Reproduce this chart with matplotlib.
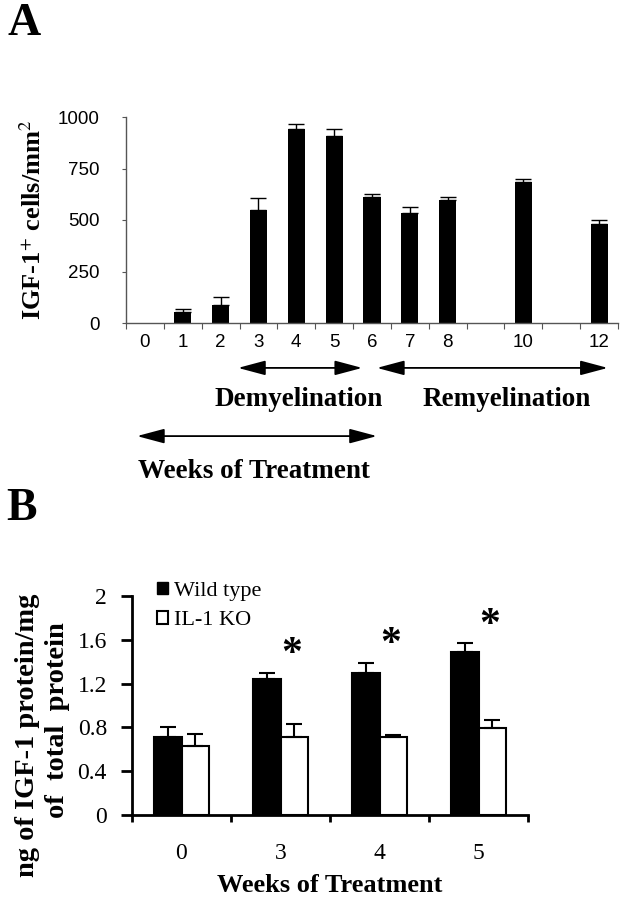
import numpy as np
import matplotlib
matplotlib.use("Agg")
from matplotlib import pyplot as plt
from matplotlib.patches import Patch

SERIF = ["Liberation Serif", "DejaVu Serif"]
SANS = ["Liberation Sans", "DejaVu Sans"]

# Panel A data
weeks_a = [0, 1, 2, 3, 4, 5, 6, 7, 8, 10, 12]
cells_a = [0, 55, 85, 550, 940, 910, 610, 535, 597, 685, 480]
err_a = [0, 15, 40, 55, 25, 30, 18, 28, 15, 15, 20]
tick_labels_a = ["0", "1", "2", "3", "4", "5", "6", "7", "8", "", "10", "", "12"]

# Panel B data
weeks_b = ["0", "3", "4", "5"]
wild_type = [0.71, 1.24, 1.30, 1.49]
wild_err = [0.09, 0.06, 0.09, 0.08]
il1_ko = [0.63, 0.71, 0.71, 0.79]
il1_err = [0.11, 0.12, 0.02, 0.08]
significant = [False, True, True, True]

fig = plt.figure(figsize=(6.22, 8.99), dpi=100)

# ---------------- Panel A ----------------
axA = fig.add_axes([126 / 622, 1 - 323 / 899, 492 / 622, 206 / 899])
cells = np.array(cells_a)
errs = np.array(err_a)
has = cells > 0
axA.bar(np.array(weeks_a)[has], cells[has], width=0.45, color="black")
axA.errorbar(np.array(weeks_a)[has], cells[has], yerr=[np.zeros(has.sum()), errs[has]],
             fmt="none", ecolor="black", elinewidth=1, capsize=6, capthick=1)

axA.set_xlim(-0.5, 12.5)
axA.set_ylim(0, 1000)
for side in ["top", "right"]:
    axA.spines[side].set_visible(False)
for side in ["left", "bottom"]:
    axA.spines[side].set_color("#555555")
    axA.spines[side].set_linewidth(1)

axA.set_yticks([0, 250, 500, 750, 1000])
axA.set_xticks(np.arange(-0.5, 13, 1))
axA.set_xticklabels([])
axA.set_xticks(np.arange(13), minor=True)
axA.set_xticklabels(tick_labels_a, minor=True)
axA.tick_params(axis="x", which="major", direction="out", length=4, color="#555555")
axA.tick_params(axis="x", which="minor", length=0, pad=8)
axA.tick_params(axis="y", direction="out", length=3, color="#555555", pad=16)
for lab in axA.get_yticklabels() + axA.get_xticklabels(minor=True):
    lab.set_fontfamily(SANS)
    lab.set_fontsize(13.5)

fig.text(33 / 622, 1 - 220 / 899, r"IGF-1$^{+}$ cells/mm$^{2}$", rotation=90,
         ha="center", va="center", fontsize=19, fontweight="bold", family=SERIF,
         math_fontfamily="stix")
fig.text(8 / 622, 1 - 3 / 899, "A", ha="left", va="top", fontsize=33,
         fontweight="bold", family=SERIF)

# arrows below panel A (x in data units, y in axes fraction)
trA = axA.get_xaxis_transform()
arrow_kw = dict(arrowstyle="<|-|>,head_length=1.2,head_width=0.32", color="black",
                lw=1.3, shrinkA=0, shrinkB=0, mutation_scale=14)
axA.annotate("", xy=(2.46, -0.218), xytext=(5.74, -0.218), xycoords=trA,
             textcoords=trA, arrowprops=arrow_kw, annotation_clip=False)
axA.annotate("", xy=(6.13, -0.218), xytext=(12.23, -0.218), xycoords=trA,
             textcoords=trA, arrowprops=arrow_kw, annotation_clip=False)
axA.annotate("", xy=(-0.21, -0.549), xytext=(6.13, -0.549), xycoords=trA,
             textcoords=trA, arrowprops=arrow_kw, annotation_clip=False)
axA.text(4.07, -0.37, "Demyelination", transform=trA, ha="center", va="center",
         fontsize=19.5, fontweight="bold", family=SERIF)
axA.text(9.57, -0.37, "Remyelination", transform=trA, ha="center", va="center",
         fontsize=19.5, fontweight="bold", family=SERIF)
axA.text(2.88, -0.72, "Weeks of Treatment", transform=trA, ha="center", va="center",
         fontsize=19.5, fontweight="bold", family=SERIF)

# ---------------- Panel B ----------------
axB = fig.add_axes([132 / 622, 1 - 815 / 899, 396 / 622, 219 / 899])
x = np.arange(len(weeks_b))
w = 0.28
axB.bar(x - w / 2, wild_type, width=w, color="black", edgecolor="black", linewidth=1.5)
axB.bar(x + w / 2, il1_ko, width=w, color="white", edgecolor="black", linewidth=1.5)
axB.errorbar(x - w / 2, wild_type, yerr=[np.zeros(len(x)), wild_err], fmt="none",
             ecolor="black", elinewidth=1.5, capsize=6, capthick=1.5)
axB.errorbar(x + w / 2, il1_ko, yerr=[np.zeros(len(x)), il1_err], fmt="none",
             ecolor="black", elinewidth=1.5, capsize=6, capthick=1.5)

for xi, sig, top in zip(x, significant, np.array(wild_type) + np.array(wild_err)):
    if sig:
        axB.text(xi + w / 2 - 0.03, top + 0.16, "*", ha="center", va="center",
                 fontsize=30, fontweight="bold", family=SERIF)

axB.set_xlim(-0.5, 3.5)
axB.set_ylim(0, 2)
for side in ["top", "right"]:
    axB.spines[side].set_visible(False)
for side in ["left", "bottom"]:
    axB.spines[side].set_linewidth(2)
axB.set_yticks([0, 0.4, 0.8, 1.2, 1.6, 2])
axB.set_yticklabels(["0", "0.4", "0.8", "1.2", "1.6", "2"])
axB.set_xticks(np.arange(-0.5, 4, 1))
axB.set_xticklabels([])
axB.set_xticks(x, minor=True)
axB.set_xticklabels(weeks_b, minor=True)
axB.tick_params(axis="x", which="major", direction="out", length=5, width=2)
axB.tick_params(axis="x", which="minor", length=0, pad=20)
axB.tick_params(axis="y", direction="out", length=8, width=2, pad=10)
for lab in axB.get_yticklabels() + axB.get_xticklabels(minor=True):
    lab.set_fontfamily(SERIF)
    lab.set_fontsize(17)

axB.legend(handles=[Patch(facecolor="black", edgecolor="black", label="Wild type"),
                    Patch(facecolor="white", edgecolor="black", linewidth=1.5, label="IL-1 KO")],
           loc="upper left", bbox_to_anchor=(0.062, 1.065), frameon=False,
           prop={"family": SERIF, "size": 16}, handlelength=0.5, handleheight=0.5,
           handletextpad=0.3, labelspacing=0.45, borderpad=0, borderaxespad=0)

axB.text(0.5, -0.32, "Weeks of Treatment", transform=axB.transAxes, ha="center",
         va="center", fontsize=19, fontweight="bold", family=SERIF)
fig.text(28 / 622, 1 - 735 / 899, "ng of IGF-1 protein/mg", rotation=90, ha="center",
         va="center", fontsize=20.5, fontweight="bold", family=SERIF)
fig.text(58 / 622, 1 - 720 / 899, "of  total  protein", rotation=90, ha="center",
         va="center", fontsize=20.5, fontweight="bold", family=SERIF)
fig.text(6 / 622, 1 - 488 / 899, "B", ha="left", va="top", fontsize=33,
         fontweight="bold", family=SERIF)

fig.savefig("out.png", dpi=100)
